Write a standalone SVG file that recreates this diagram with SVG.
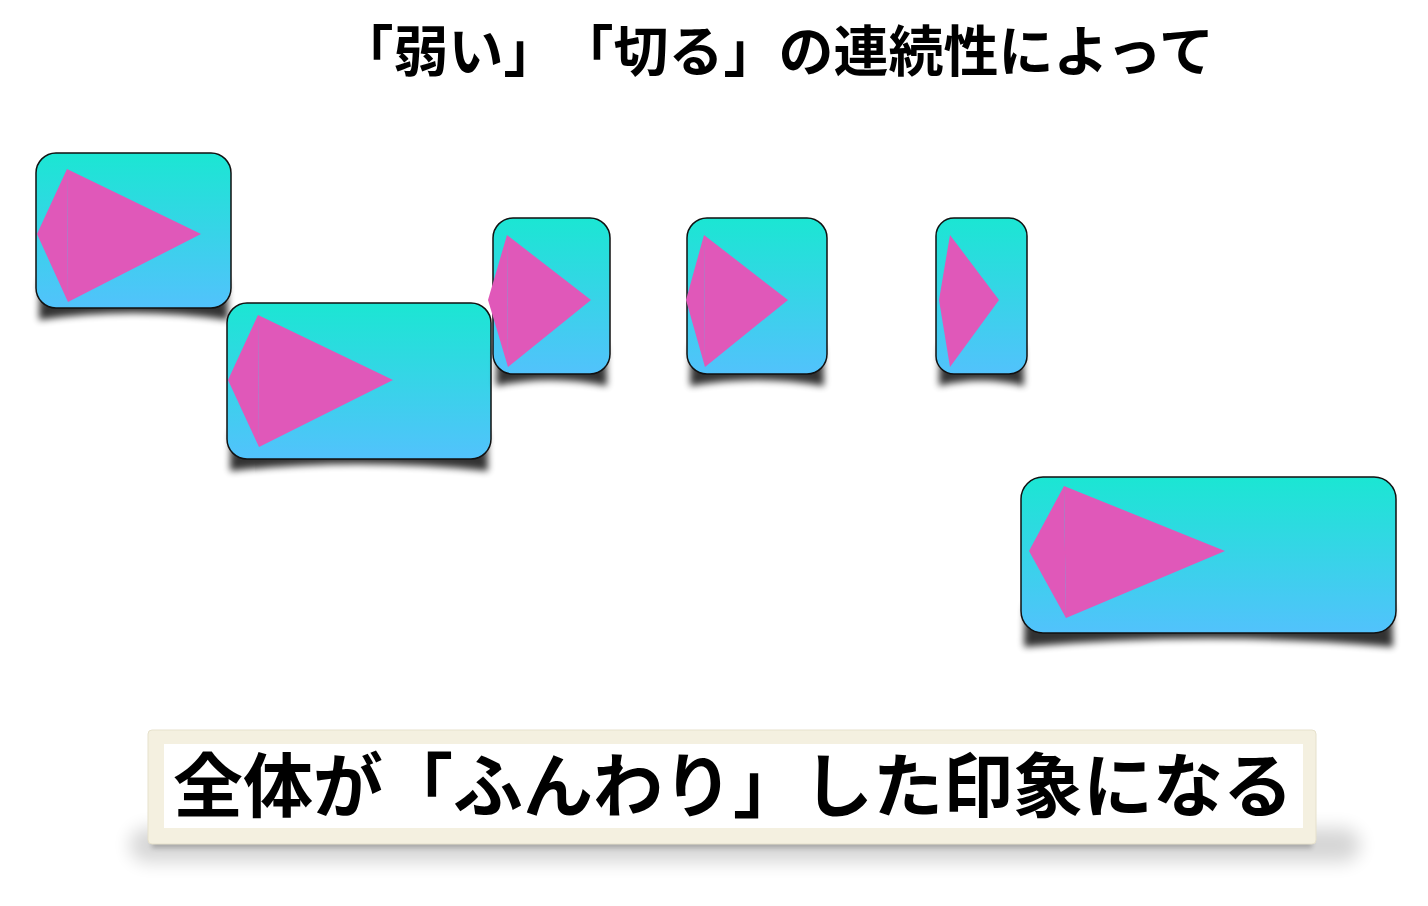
<svg xmlns="http://www.w3.org/2000/svg" width="1428" height="906" viewBox="0 0 1428 906">
<defs>
  <linearGradient id="cardGrad" x1="0" y1="0" x2="0" y2="1">
    <stop offset="0" stop-color="#1be6d3"/>
    <stop offset="1" stop-color="#52c2fc"/>
  </linearGradient>
  <filter id="blur3" x="-20%" y="-20%" width="140%" height="160%">
    <feGaussianBlur stdDeviation="3.5"/>
  </filter>
  <filter id="blur2" x="-10%" y="-100%" width="120%" height="300%">
    <feGaussianBlur stdDeviation="2.5"/>
  </filter>
  <filter id="blurBig" x="-20%" y="-80%" width="140%" height="260%">
    <feGaussianBlur stdDeviation="9"/>
  </filter>
  <style>
    .card { fill: url(#cardGrad); stroke: #111; stroke-width: 1.5; }
    .shadow { fill: #000; opacity: 0.8; filter: url(#blur3); }
    .tri { fill: #e058b9; }
    .title { font-family: "Noto Sans CJK JP", "Noto Sans CJK SC", sans-serif; font-weight: 700; fill: #000; }
  </style>
</defs>
<rect x="0" y="0" width="1428" height="906" fill="#ffffff"/>

<g id="title">
  <text class="title" x="338.5" y="71" font-size="55">「弱い」</text>
  <text class="title" x="558.5" y="71" font-size="55">「切る」の連続性によって</text>
</g>

<g id="card1">
  <path class="shadow" d="M40,280 L39,320 Q133,306 228,320 L227,280 Z"/>
  <rect class="card" x="36" y="153" width="195" height="155" rx="20"/>
  <polygon class="tri" points="37,234 67,169 68,302"/>
  <polygon class="tri" points="67,169 201,234 68,302"/>
</g>

<g id="card2">
  <path class="shadow" d="M231,431 L230,471 Q359,457 488,471 L487,431 Z"/>
  <rect class="card" x="227" y="303" width="264" height="156" rx="20"/>
  <polygon class="tri" points="228,380 258,315 259,447"/>
  <polygon class="tri" points="258,315 393,380 259,447"/>
</g>

<g id="card3">
  <path class="shadow" d="M497,346 L496,386 Q551,374 607,386 L606,346 Z"/>
  <rect class="card" x="493" y="218" width="117" height="156" rx="20"/>
  <polygon class="tri" points="488,300 507,235 508,367"/>
  <polygon class="tri" points="507,235 591,300 508,367"/>
</g>

<g id="card4">
  <path class="shadow" d="M691,346 L690,386 Q757,374 824,386 L823,346 Z"/>
  <rect class="card" x="687" y="218" width="140" height="156" rx="20"/>
  <polygon class="tri" points="686,300 704,235 705,367"/>
  <polygon class="tri" points="704,235 788,300 705,367"/>
</g>

<g id="card5">
  <path class="shadow" d="M940,346 L939,386 Q981,375 1024,386 L1023,346 Z"/>
  <rect class="card" x="936" y="218" width="91" height="156" rx="18"/>
  <polygon class="tri" points="939,300 950,235 950,367"/>
  <polygon class="tri" points="950,235 999,300 950,367"/>
</g>

<g id="card6">
  <path class="shadow" d="M1025,605 L1024,647 Q1208,630 1393,647 L1392,605 Z"/>
  <rect class="card" x="1021" y="477" width="375" height="156" rx="22"/>
  <polygon class="tri" points="1029,551 1064,486 1066,618"/>
  <polygon class="tri" points="1064,486 1225,551 1066,618"/>
</g>

<g id="banner">
  <rect x="130" y="828" width="1230" height="34" rx="17" fill="#000" opacity="0.16" filter="url(#blurBig)"/>
  <rect x="152" y="836" width="1160" height="12" fill="#000" opacity="0.22" filter="url(#blur2)"/>
  <rect x="148" y="730" width="1168" height="114" rx="4" fill="#f4f0e0" stroke="#e6e1cc" stroke-width="1"/>
  <rect x="164" y="744" width="1139" height="84" fill="#ffffff"/>
  <text class="title" x="733" y="812" font-size="70" text-anchor="middle">全体が「ふんわり」した印象になる</text>
</g>
</svg>
